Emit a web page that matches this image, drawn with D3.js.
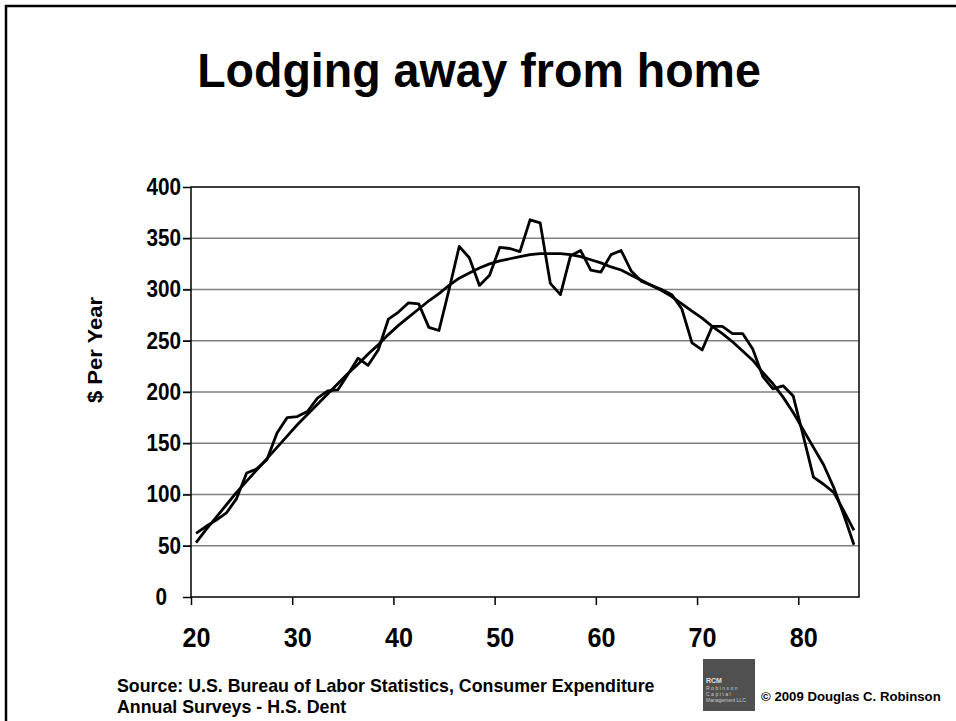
<!DOCTYPE html>
<html>
<head>
<meta charset="utf-8">
<script src="https://cdn.jsdelivr.net/npm/d3@7"></script>
<style>
    body { margin: 0; background: #fff; }
    svg { display: block; font-family: "Liberation Sans", Arial, sans-serif; }
</style>
</head>
<body>
<svg id="chart" width="956" height="721"></svg>
<script>
// ages on the category axis
var ages = d3.range(20, 86);

// spending on lodging per age, $ per year
var spending = [62, 69, 75, 82, 96, 121, 125, 134, 160, 175,
                176, 181, 194, 201, 202, 217, 233, 226, 241, 271,
                278, 287, 286, 263, 260, 300, 342, 331, 304, 314,
                341, 340, 337, 368, 365, 306, 295, 333, 338, 319,
                317, 334, 338, 318, 308, 304, 300, 295, 281, 248,
                241, 264, 264, 257, 257, 242, 215, 203, 206, 196,
                157, 117, 110, 102, 84, 65];

// trend line
var trend = [53, 66, 78, 90, 102, 113, 124, 135, 146, 157,
             168, 178, 188, 198, 208, 218, 227, 237, 246, 256,
             265, 273, 281, 289, 296, 304, 311, 316, 321, 325,
             328, 330, 332, 334, 335, 335, 335, 334, 332, 329,
             326, 322, 319, 314, 309, 304, 299, 293, 286, 279,
             272, 264, 257, 249, 240, 231, 219, 208, 195, 180,
             163, 146, 129, 107, 80, 51];

// axis ticks
var yTicks = [0, 50, 100, 150, 200, 250, 300, 350, 400];
var xLabels = [20, 30, 40, 50, 60, 70, 80];

// the slide text is a little narrow
const SQUEEZE = "scale(0.9,1)";

var svg = d3.select("#chart");

// slide frame
svg.append("rect")
    .attr("x", 6).attr("y", 6)
    .attr("width", 1000).attr("height", 1000)
    .attr("fill", "none")
    .attr("stroke", "#000")
    .attr("stroke-width", 2.5);

// title
svg.append("text")
    .attr("transform", "translate(479,87) scale(0.95,1)")
    .attr("text-anchor", "middle")
    .attr("font-size", 49)
    .attr("font-weight", "bold")
    .text("Lodging away from home");

// plot area
const PLOT = {left: 191, top: 187, right: 859, bottom: 597};

var x = d3.scaleLinear()
    .domain([19.5, 85.5])
    .range([PLOT.left, PLOT.right]);

var y = d3.scaleLinear()
    .domain([0, 400])
    .range([PLOT.bottom, PLOT.top]);

drawGrid();
drawAxes();
drawLines();
drawFooter();

// horizontal gridlines
function drawGrid()
{
    svg.append("g")
        .selectAll("line")
        .data(yTicks.filter(d => d > 0 && d < 400))
        .enter()
        .append("line")
        .attr("x1", PLOT.left - 8)
        .attr("x2", PLOT.right)
        .attr("y1", d => y(d))
        .attr("y2", d => y(d))
        .attr("stroke", "#808080")
        .attr("stroke-width", 1.5);

    // border round the plot
    svg.append("rect")
        .attr("x", PLOT.left).attr("y", PLOT.top)
        .attr("width", PLOT.right - PLOT.left)
        .attr("height", PLOT.bottom - PLOT.top)
        .attr("fill", "none")
        .attr("stroke", "#000")
        .attr("stroke-width", 1.5);
}

// axes, tick marks and labels
function drawAxes()
{
    var yAxis = d3.axisLeft(y)
        .tickValues(yTicks)
        .tickSize(8)
        .tickPadding(3);

    var gy = svg.append("g")
        .attr("transform", "translate(" + PLOT.left + ",0)")
        .call(yAxis);

    // tick marks between categories
    var xAxis = d3.axisBottom(x)
        .tickValues(xLabels.map(d => d - 0.5))
        .tickSize(8)
        .tickFormat("");

    var gx = svg.append("g")
        .attr("transform", "translate(0," + PLOT.bottom + ")")
        .call(xAxis);

    // labels centred on the category
    var gxl = svg.append("g")
        .attr("transform", "translate(0," + PLOT.bottom + ")")
        .call(d3.axisBottom(x).tickValues(xLabels).tickSize(0).tickPadding(50));

    [gy, gx, gxl].forEach(g => {
        g.select(".domain").remove();
        g.selectAll(".tick line").attr("stroke", "#000").attr("stroke-width", 1.5);
        g.selectAll("text")
            .attr("font-family", "Liberation Sans, Arial, sans-serif")
            .attr("font-weight", "bold")
            .attr("fill", "#000")
            .attr("transform", SQUEEZE);
    });
    gy.selectAll("text").attr("font-size", 23);
    gxl.selectAll("text").attr("font-size", 28).attr("dy", "0");

    // the zero label sits further left in the original
    gy.selectAll(".tick text")
        .filter(d => d === 0)
        .attr("transform", "translate(-14,0) " + SQUEEZE);

    // y-axis title
    svg.append("text")
        .attr("transform", "translate(102,350) scale(0.9,1) rotate(-90)")
        .attr("text-anchor", "middle")
        .attr("font-size", 22)
        .attr("font-weight", "bold")
        .text("$ Per Year");
}

// data line and trend line
function drawLines()
{
    var lineGen = d3.line()
        .x((d, i) => x(ages[i]))
        .y(d => y(d));

    [trend, spending].forEach(series => {
        svg.append("path")
            .attr("d", lineGen(series))
            .attr("fill", "none")
            .attr("stroke", "#000")
            .attr("stroke-width", 2.8)
            .attr("stroke-linejoin", "round");
    });
}

// source note, logo and copyright
function drawFooter()
{
    svg.append("text")
        .attr("x", 117).attr("y", 692)
        .attr("font-size", 17.8)
        .attr("font-weight", "bold")
        .text("Source:  U.S. Bureau of Labor Statistics, Consumer Expenditure");

    svg.append("text")
        .attr("x", 117).attr("y", 713)
        .attr("font-size", 17.8)
        .attr("font-weight", "bold")
        .text("Annual Surveys - H.S. Dent");

    var logo = svg.append("g").attr("transform", "translate(703,659)");

    logo.append("rect")
        .attr("width", 52).attr("height", 52)
        .attr("fill", "#505050");

    logo.append("text")
        .attr("x", 3).attr("y", 24)
        .attr("font-size", 7)
        .attr("font-weight", "bold")
        .attr("fill", "#e0e0e0")
        .text("RCM");

    ["Robinson", "Capital", "Management LLC"].forEach((t, i) => {
        logo.append("text")
            .attr("x", 3).attr("y", 31 + i * 6)
            .attr("font-size", 5)
            .attr("letter-spacing", i < 2 ? 1.5 : 0)
            .attr("fill", "#c8c8c8")
            .text(t);
    });

    svg.append("text")
        .attr("x", 761).attr("y", 701)
        .attr("font-size", 13.2)
        .attr("font-weight", "bold")
        .text("\u00a9 2009 Douglas C. Robinson");
}
</script>
</body>
</html>
